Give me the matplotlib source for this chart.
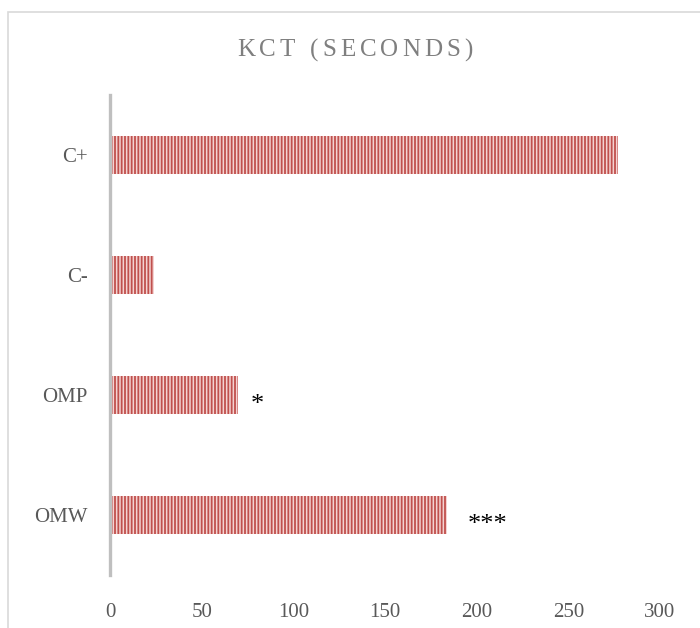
import matplotlib
matplotlib.use("Agg")
import matplotlib.pyplot as plt
from matplotlib.patches import Rectangle

# KCT (seconds) per group, bottom to top
groups = ["OMW", "OMP", "C-", "C+"]
kct = [184, 70, 24, 277]
marks = ["***", "*", "", ""]
xticks = [0, 50, 100, 150, 200, 250, 300]

plt.rcParams["font.family"] = ["Liberation Serif", "DejaVu Serif"]
plt.rcParams["hatch.linewidth"] = 1.3
plt.rcParams["hatch.color"] = "#c0504d"

W, H = 700, 628
fig = plt.figure(figsize=(W / 100, H / 100), dpi=100)

# light frame around the chart area
fig.patches.append(Rectangle((8 / W, -0.05), 1.0, 1 - 12 / H + 0.05,
                             transform=fig.transFigure, fill=False,
                             edgecolor="#d9d9d9", lw=1.2))

ax = fig.add_axes([110 / W, 1 - 575 / H, 550 / W, 480 / H])
ypos = range(len(groups))
ax.barh(ypos, kct, height=0.31, color="#f4d3d2", edgecolor="#c0504d",
        hatch="|||||", linewidth=0)

for y, v, m in zip(ypos, kct, marks):
    if m:
        ax.annotate(m, (v, y), xytext=(9 if len(m) == 1 else 15, -7),
                    textcoords="offset points", ha="left", va="center",
                    fontsize=19, color="black")

ax.set_xlim(0, 300)
ax.set_ylim(-0.5, 3.5)
ax.set_xticks(xticks)
ax.set_yticks(list(ypos))
ax.set_yticklabels(groups)
ax.tick_params(axis="both", length=0, labelsize=15, colors="#595959")
ax.tick_params(axis="x", pad=20)
ax.tick_params(axis="y", pad=16)
for s in ["top", "right", "bottom"]:
    ax.spines[s].set_visible(False)
ax.spines["left"].set_color("#bfbfbf")
ax.spines["left"].set_linewidth(2.4)

# title with wide letter spacing, drawn one glyph at a time
title = "KCT (SECONDS)"
fsize = 18
fig.canvas.draw()
r = fig.canvas.get_renderer()
spacing = 4.0
widths = []
for ch in title:
    t = fig.text(0, 0, ch if ch != " " else "n", fontsize=fsize)
    widths.append(t.get_window_extent(r).width if ch != " " else 7)
    t.remove()
total = sum(widths) + spacing * (len(title) - 1)
x = 355 - total / 2
for ch, w in zip(title, widths):
    fig.text(x / W, 1 - 50 / H, ch, fontsize=fsize, color="#7f7f7f",
             ha="left", va="center")
    x += w + spacing

fig.savefig("out.png", dpi=100)
